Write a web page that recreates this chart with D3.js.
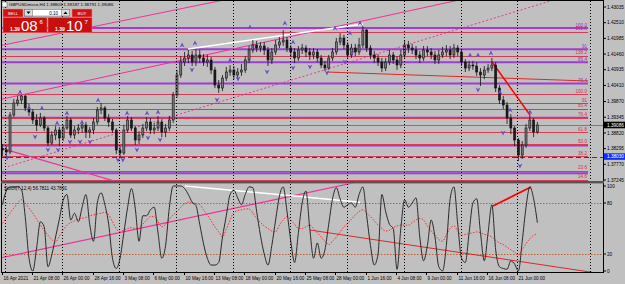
<!DOCTYPE html>
<html><head><meta charset="utf-8">
<script src="https://cdn.jsdelivr.net/npm/d3@7"></script>
<style>body{margin:0;background:#c0c0c0;overflow:hidden}svg{display:block;font-family:"Liberation Sans",Arial,sans-serif}</style>
</head><body><svg id="c" width="625" height="284"></svg>
<script>
// ---------- DATA ----------
const symbolTitle = "GBPUSDmicro,H4  1.38803 1.39187 1.38791 1.39086";
const stochTitle = "Stoch(7,12,4) 56.7811 43.7891";
// 8-hour aggregated candles; open = previous close
const closes = [1.38249,1.38182,1.39420,1.39822,1.39922,1.40056,1.39655,1.39521,1.39253,1.39086,
1.39320,1.38985,1.38483,1.38751,1.38918,1.38650,1.38985,1.39253,1.38751,1.38918,
1.38985,1.39086,1.38851,1.38918,1.39186,1.39588,1.39655,1.39320,1.39186,1.38918,
1.38249,1.38148,1.38918,1.39253,1.38985,1.38583,1.38751,1.38985,1.39186,1.38918,
1.38985,1.39186,1.38851,1.38985,1.39253,1.40090,1.40759,1.41194,1.41328,1.41428,
1.41194,1.41428,1.41328,1.41194,1.41261,1.40926,1.40424,1.40324,1.40659,1.40859,
1.40926,1.40759,1.40859,1.40926,1.41261,1.41596,1.41763,1.41663,1.41730,1.41596,
1.41261,1.41529,1.41763,1.41864,1.41930,1.41663,1.41529,1.41328,1.41596,1.41663,
1.41529,1.41428,1.41529,1.41328,1.41094,1.40993,1.41328,1.41529,1.41864,1.41997,
1.41763,1.41428,1.41663,1.41529,1.41763,1.42265,1.41663,1.41428,1.41328,1.41194,
1.40993,1.41194,1.41428,1.41261,1.41094,1.41428,1.41763,1.41663,1.41596,1.41428,
1.41328,1.41596,1.41529,1.41428,1.41261,1.41428,1.41529,1.41596,1.41428,1.41663,
1.41529,1.41194,1.40993,1.41094,1.41060,1.40859,1.40759,1.40926,1.40993,1.41094,
1.40324,1.39922,1.39755,1.39320,1.38985,1.38583,1.38081,1.38416,1.38985,1.39253,
1.38851,1.39086];
const highs = [1.3845,1.3838,1.3952,1.3996,1.4006,1.4009,1.4009,1.3979,1.3962,1.3945,
1.3949,1.3939,1.3905,1.3888,1.3905,1.3902,1.3909,1.3939,1.3932,1.3905,
1.3912,1.3919,1.3919,1.3902,1.3932,1.3969,1.3982,1.3972,1.3945,1.3929,
1.3898,1.3838,1.3909,1.3939,1.3935,1.3905,1.3888,1.3912,1.3935,1.3932,
1.3915,1.3939,1.3925,1.3912,1.3939,1.4019,1.4093,1.4139,1.4153,1.4160,
1.4156,1.4163,1.4160,1.4146,1.4143,1.4136,1.4103,1.4059,1.4076,1.4103,
1.4109,1.4106,1.4099,1.4113,1.4139,1.4173,1.4193,1.4190,1.4186,1.4186,
1.4170,1.4166,1.4193,1.4203,1.4226,1.4203,1.4176,1.4166,1.4173,1.4180,
1.4176,1.4166,1.4166,1.4163,1.4143,1.4123,1.4143,1.4166,1.4200,1.4216,
1.4210,1.4186,1.4180,1.4180,1.4200,1.4240,1.4230,1.4176,1.4156,1.4146,
1.4133,1.4133,1.4160,1.4153,1.4139,1.4160,1.4193,1.4190,1.4180,1.4173,
1.4156,1.4173,1.4173,1.4166,1.4156,1.4160,1.4170,1.4176,1.4173,1.4180,
1.4176,1.4163,1.4129,1.4123,1.4123,1.4119,1.4099,1.4106,1.4113,1.4133,
1.4119,1.4042,1.4006,1.3986,1.3945,1.3905,1.3865,1.3855,1.3912,1.3942,
1.3932,1.3919];
const lows = [1.3805,1.3798,1.3811,1.3935,1.3972,1.3979,1.3955,1.3939,1.3912,1.3888,
1.3902,1.3888,1.3838,1.3842,1.3858,1.3838,1.3855,1.3892,1.3865,1.3862,
1.3878,1.3882,1.3865,1.3865,1.3878,1.3909,1.3945,1.3922,1.3902,1.3882,
1.3811,1.3798,1.3808,1.3882,1.3888,1.3842,1.3845,1.3865,1.3888,1.3878,
1.3878,1.3888,1.3868,1.3868,1.3888,1.3915,1.3999,1.4066,1.4106,1.4116,
1.4106,1.4106,1.4116,1.4106,1.4103,1.4079,1.4032,1.4016,1.4022,1.4056,
1.4073,1.4062,1.4062,1.4073,1.4083,1.4116,1.4150,1.4153,1.4153,1.4143,
1.4106,1.4113,1.4143,1.4166,1.4173,1.4153,1.4136,1.4116,1.4123,1.4146,
1.4136,1.4126,1.4129,1.4119,1.4099,1.4089,1.4093,1.4123,1.4143,1.4176,
1.4163,1.4129,1.4133,1.4139,1.4143,1.4166,1.4153,1.4129,1.4116,1.4106,
1.4086,1.4089,1.4109,1.4113,1.4093,1.4099,1.4133,1.4150,1.4146,1.4129,
1.4116,1.4123,1.4139,1.4129,1.4113,1.4113,1.4133,1.4139,1.4129,1.4133,
1.4139,1.4106,1.4086,1.4089,1.4093,1.4073,1.4039,1.4062,1.4083,1.4089,
1.4019,1.3979,1.3962,1.3912,1.3878,1.3838,1.3788,1.3795,1.3832,1.3888,
1.3868,1.3879];
const firstOpen = 1.38300;
const stochMain = [78,94,99,99,99,96,64,15,0,27,58,52,5,19,40,61,83,90,60,68,
58,75,90,55,35,80,92,78,55,15,3,15,45,75,97,74,35,65,65,72,
75,45,15,30,75,100,100,100,97,90,81,77,55,32,15,7,7,10,40,65,
90,95,86,78,90,99,98,70,42,20,7,30,60,88,99,70,35,10,45,80,
94,50,15,33,15,25,55,85,98,85,75,78,80,75,90,99,65,30,7,20,
90,70,55,50,2,50,84,75,80,86,40,12,30,60,40,5,0,30,85,99,
55,15,10,45,80,85,45,12,45,78,25,5,3,2,12,8,0,35,75,99,85,56.78];
const stochSignal = [56,62,68,74,80,84,80,74,68,61,54,48,42,37,34,41,48,54,57,59,
61,62,63,65,66,67,68,69,66,58,50,46,48,50,51,50,50,55,60,64,
64,58,52,55,61,66,70,75,79,81,80,79,78,72,66,59,52,46,40,49,
60,69,71,72,73,73,68,62,57,53,50,47,46,54,60,64,60,55,50,50,
52,54,50,45,40,35,31,35,40,46,52,56,61,66,70,72,68,64,59,54,
50,47,48,51,53,54,54,54,57,60,62,60,53,47,42,37,35,43,50,53,
47,42,43,44,45,46,45,43,42,40,36,33,31,28,25,22,19,25,32,38,42,43.79];
const timeLabels = ["16 Apr 2021","21 Apr 08:00","26 Apr 00:00","28 Apr 16:00","3 May 08:00","6 May 00:00",
"10 May 16:00","13 May 08:00","18 May 00:00","20 May 16:00","25 May 08:00","28 May 00:00",
"1 Jun 16:00","4 Jun 08:00","9 Jun 00:00","11 Jun 16:00","16 Jun 08:00","21 Jun 00:00"];
const timeLabelBars = [0,16,32,48,64,80,96,112,128,144,160,176,192,208,224,240,256,272];
const weekStartBars = [2,32,62,92,122,152,182,212,242,272];
const extraVLineBars = [310];
const priceTicks = [1.43035,1.42510,1.41985,1.41460,1.40935,1.40410,1.39870,1.39345,1.38820,1.38295,1.37770,1.37245];
const stochTicks = [100,80,20,0];
const stochLevels = [80,20];
const bidPrice = 1.39086;
const hLinePrice = 1.38030;
// Fibonacci objects
const fiboPurple = {high:1.42332, low:1.34467, levels:[100,91,85.4,76.4,61.8,50,38.2], labelled:[100,91,85.4,76.4]};
const fiboRed = {high:1.40123, low:1.36753, levels:[161.8,138.2,100,91,85.4,76.4,61.8,50,38.2,23.6,14.6]};
// Fractal arrows (bar index, price)
const upBars = [9.8,14.5,21.3,29.3,34.5,42.4,50.9,66.2,76.7,82.5,95.2,102,120.5,131,149.4,153.7,175.8,183.7,189,247,251.2,258,262.8,268.1,278.6];
const upPrices = [1.40190,1.39655,1.39655,1.39153,1.39487,1.39186,1.39922,1.39487,1.39487,1.39521,1.41763,1.41830,1.41261,1.42366,1.42500,1.41864,1.42332,1.42165,1.42500,1.41428,1.41428,1.41495,1.40190,1.39588,1.39521];
const dnBars = [2.9,17.7,24.5,29.8,36.1,41.4,46.7,61.4,64,71.4,77.2,83.6,100.4,113.6,124.7,140,153.7,162.6,171.6,181.1,184.8,251.2,264.4,273.3];
const dnPrices = [1.37981,1.38684,1.38249,1.38249,1.38517,1.38517,1.38517,1.37914,1.37914,1.38249,1.38651,1.38584,1.40926,1.39922,1.40625,1.40859,1.40993,1.41027,1.40826,1.41194,1.41495,1.40257,1.38818,1.37713];
// Trendlines in main window: [bar1, price1, bar2, price2]
const mainLines = [
  {p:[0,1.39949,194.3,1.42623], color:"#f0309a", w:1, dash:null, ray:true},
  {p:[0,1.41750,83.6,1.42834], color:"#f0309a", w:1, dash:null, ray:true},
  {p:[3.4,1.37694,247,1.42416], color:"#f0309a", w:1, dash:"2,2", ray:true},
  {p:[0,1.38302,61.4,1.37178], color:"#f0309a", w:1.2, dash:null, ray:false},
  {p:[171.6,1.40859,309.2,1.40558], color:"#e02828", w:1, dash:null, ray:false},
  {p:[98.3,1.41629,190.6,1.42466], color:"#ffffff", w:1.5, dash:null, ray:false},
  {p:[258.6,1.41194,278.6,1.39420], color:"#ff0000", w:1.5, dash:null, ray:false}
];
// Trendlines in stochastic window: [bar1, value1, bar2, value2]
const indLines = [
  {p:[0,15.6,185.3,103.5], color:"#f0309a", w:1.2},
  {p:[96.7,100,189,81], color:"#ffffff", w:1.5},
  {p:[162.6,48.2,313.9,-2.4], color:"#e02828", w:1},
  {p:[259.1,76.5,279.1,98.8], color:"#ff0000", w:1.8}
];

// ---------- DRAW ----------
const svg = d3.select("#c");
const W=625, H=284, R=603, mTop=1, mBot=181.5, iTop=183.5, iBot=272;
const x = d3.scaleLinear().domain([0,283]).range([1.5, 1.5+283*1.897]);
const y = d3.scaleLinear().domain([1.43035,1.37245]).range([7,180]);
const ys = d3.scaleLinear().domain([0,100]).range([271,186]);

svg.append("rect").attr("width",W).attr("height",H).attr("fill","#c0c0c0");
const defs = svg.append("defs");
defs.append("clipPath").attr("id","cm").append("rect").attr("x",1.5).attr("y",mTop).attr("width",R-1.5).attr("height",mBot-mTop);
defs.append("clipPath").attr("id","ci").append("rect").attr("x",1.5).attr("y",iTop).attr("width",R-1.5).attr("height",iBot-iTop);
const gm = svg.append("g").attr("clip-path","url(#cm)");
const gi = svg.append("g").attr("clip-path","url(#ci)");

// period separators
const gs = svg.append("g");
weekStartBars.concat(extraVLineBars).forEach(b=>{
  gs.append("line").attr("x1",Math.round(x(b))+0.5).attr("x2",Math.round(x(b))+0.5).attr("y1",mTop).attr("y2",iBot)
    .attr("stroke","#000").attr("stroke-width",1).attr("stroke-dasharray","1,2");
});

// fibo lines
function fibPrice(f,l){return f.low + (f.high-f.low)*l/100;}
function fibText(l){return l===91?"91":l.toFixed(1);}
fiboPurple.levels.forEach(l=>{
  const yy=y(fibPrice(fiboPurple,l));
  gm.append("line").attr("x1",0).attr("x2",588).attr("y1",yy).attr("y2",yy).attr("stroke","#a03cd2").attr("stroke-width",2);
});
fiboRed.levels.forEach(l=>{
  const yy=Math.round(y(fibPrice(fiboRed,l)))+0.5;
  gm.append("line").attr("x1",0).attr("x2",588).attr("y1",yy).attr("y2",yy).attr("stroke","#d83a58").attr("stroke-width",1);
});
gm.append("line").attr("x1",0).attr("x2",R).attr("y1",Math.round(y(hLinePrice))+0.5).attr("y2",Math.round(y(hLinePrice))+0.5)
  .attr("stroke","#1030ff").attr("stroke-width",1.2).attr("stroke-dasharray","5,3");
gm.append("line").attr("x1",0).attr("x2",R).attr("y1",Math.round(y(bidPrice))+0.5).attr("y2",Math.round(y(bidPrice))+0.5)
  .attr("stroke","#7a7a7a").attr("stroke-width",1);
fiboPurple.labelled.forEach(l=>{
  gm.append("text").attr("x",587).attr("y",y(fibPrice(fiboPurple,l))-1.5).attr("text-anchor","end")
    .attr("font-size",4.6).attr("fill","#9a30d0").text(fibText(l));
});
fiboRed.levels.forEach(l=>{
  gm.append("text").attr("x",587).attr("y",y(fibPrice(fiboRed,l))-1.5).attr("text-anchor","end")
    .attr("font-size",4.6).attr("fill","#d8304e").text(fibText(l));
});

// main trendlines
function lineEnds(p, ray, yscale){
  const [b1,v1,b2,v2]=p;
  let xe=b2, ve=v2;
  if(ray){ xe = 330; ve = v1 + (v2-v1)*(xe-b1)/(b2-b1); }
  return [x(b1), yscale(v1), x(xe), yscale(ve)];
}
mainLines.forEach(L=>{
  const e=lineEnds(L.p,L.ray,y);
  const ln=gm.append("line").attr("x1",e[0]).attr("y1",e[1]).attr("x2",e[2]).attr("y2",e[3])
    .attr("stroke",L.color).attr("stroke-width",L.w);
  if(L.dash) ln.attr("stroke-dasharray",L.dash);
});

// candles
const cw = 2.0;
closes.forEach((c,j)=>{
  const o = j===0?firstOpen:closes[j-1];
  const cx = x(2*j+0.5);
  gm.append("line").attr("x1",cx).attr("x2",cx).attr("y1",y(highs[j])).attr("y2",y(lows[j])).attr("stroke","#111").attr("stroke-width",0.8);
  const top=y(Math.max(o,c)), bot=y(Math.min(o,c));
  gm.append("rect").attr("x",cx-cw/2).attr("y",top).attr("width",cw).attr("height",Math.max(0.8,bot-top))
    .attr("fill", c>=o?"#7a7a7a":"#1a1a1a").attr("stroke","#111").attr("stroke-width",0.6);
});

// fractal arrows
const arrowCol="#6a4cc8";
upBars.forEach((b,k)=>{
  gm.append("path").attr("transform",`translate(${x(b)},${y(upPrices[k])})`)
    .attr("d","M0,-2.6 L2.4,2.4 L0,1 L-2.4,2.4 Z").attr("fill",arrowCol);
});
dnBars.forEach((b,k)=>{
  gm.append("path").attr("transform",`translate(${x(b)},${y(dnPrices[k])})`)
    .attr("d","M0,2.6 L2.4,-2.4 L0,-1 L-2.4,-2.4 Z").attr("fill",arrowCol);
});

// ---------- stochastic ----------
stochLevels.forEach(v=>{
  gi.append("line").attr("x1",0).attr("x2",R).attr("y1",Math.round(ys(v))+0.5).attr("y2",Math.round(ys(v))+0.5)
    .attr("stroke","#c0603a").attr("stroke-width",1).attr("stroke-dasharray","1.5,1.5");
});
indLines.forEach(L=>{
  const [b1,v1,b2,v2]=L.p;
  gi.append("line").attr("x1",x(b1)).attr("y1",ys(v1)).attr("x2",x(b2)).attr("y2",ys(v2))
    .attr("stroke",L.color).attr("stroke-width",L.w);
});
const lineS = d3.line().x((d,j)=>x(2*j+0.5)).y(d=>ys(d)).curve(d3.curveMonotoneX);
gi.append("path").attr("d",lineS(stochSignal)).attr("fill","none").attr("stroke","#ff2a2a").attr("stroke-width",1).attr("stroke-dasharray","1.5,1.5");
gi.append("path").attr("d",lineS(stochMain)).attr("fill","none").attr("stroke","#2a2a2a").attr("stroke-width",1);
svg.append("text").attr("x",4).attr("y",190).attr("font-size",4.6).attr("fill","#000").text(stochTitle);

// ---------- frames & axes ----------
svg.append("line").attr("x1",1.5).attr("x2",1.5).attr("y1",0).attr("y2",iBot).attr("stroke","#000");
svg.append("line").attr("x1",R+0.5).attr("x2",R+0.5).attr("y1",0).attr("y2",iBot).attr("stroke","#000");
svg.append("line").attr("x1",1).attr("x2",R+1).attr("y1",0.5).attr("y2",0.5).attr("stroke","#000");
svg.append("rect").attr("x",1).attr("y",181).attr("width",R).attr("height",2.4).attr("fill","#555");
svg.append("line").attr("x1",1).attr("x2",R+1).attr("y1",iBot+0.5).attr("y2",iBot+0.5).attr("stroke","#000");

const ga = svg.append("g");
priceTicks.forEach(p=>{
  const yy=y(p);
  ga.append("line").attr("x1",R).attr("x2",R+3).attr("y1",yy).attr("y2",yy).attr("stroke","#000");
  ga.append("text").attr("x",R+4).attr("y",yy+1.6).attr("font-size",4.7).attr("fill","#000").text(p.toFixed(5));
});
function tag(p,bg){
  const yy=y(p);
  ga.append("rect").attr("x",R+1).attr("y",yy-3.3).attr("width",21).attr("height",6.6).attr("fill",bg);
  ga.append("text").attr("x",R+4).attr("y",yy+1.6).attr("font-size",4.7).attr("fill","#fff").text(p.toFixed(5));
}
tag(bidPrice,"#000"); tag(hLinePrice,"#1030ff");
stochTicks.forEach(v=>{
  const yy=ys(v);
  ga.append("line").attr("x1",R).attr("x2",R+3).attr("y1",yy).attr("y2",yy).attr("stroke","#000");
  ga.append("text").attr("x",R+4).attr("y",yy+1.6).attr("font-size",4.7).attr("fill","#000").text(v);
});
timeLabelBars.forEach((b,k)=>{
  const xx=Math.round(x(b))+0.5;
  ga.append("line").attr("x1",xx).attr("x2",xx).attr("y1",iBot).attr("y2",iBot+3).attr("stroke","#000");
  ga.append("text").attr("x",xx+1).attr("y",280).attr("font-size",4.6).attr("fill","#000").text(timeLabels[k]);
});

// ---------- header & trade panel ----------
svg.append("rect").attr("x",2).attr("y",2).attr("width",5).attr("height",5).attr("fill","#fff").attr("stroke","#444").attr("stroke-width",0.5);
svg.append("text").attr("x",9).attr("y",6.3).attr("font-size",4.4).attr("fill","#000").text(symbolTitle);
const tp = svg.append("g");
function btn(x0,y0,w,h,label){
  tp.append("rect").attr("x",x0).attr("y",y0).attr("width",w).attr("height",h).attr("fill","#cc1414").attr("stroke","#ff8080").attr("stroke-width",0.5);
  tp.append("text").attr("x",x0+w/2).attr("y",y0+h/2+1.5).attr("text-anchor","middle").attr("font-size",4.3).attr("fill","#fff").text(label);
}
btn(3,9,20,8,"SELL"); btn(72,9,20,8,"BUY");
tp.append("rect").attr("x",24.5).attr("y",9.5).attr("width",45).attr("height",6.5).attr("fill","#fff").attr("stroke","#666").attr("stroke-width",0.5);
tp.append("rect").attr("x",24.5).attr("y",9.5).attr("width",8).attr("height",6.5).attr("fill","#ddd").attr("stroke","#666").attr("stroke-width",0.5);
tp.append("rect").attr("x",61.5).attr("y",9.5).attr("width",8).attr("height",6.5).attr("fill","#ddd").attr("stroke","#666").attr("stroke-width",0.5);
tp.append("path").attr("d","M26.5,11.5 L30.5,11.5 L28.5,14 Z").attr("fill","#000");
tp.append("path").attr("d","M63.5,14 L67.5,14 L65.5,11.5 Z").attr("fill","#000");
tp.append("text").attr("x",58).attr("y",14.5).attr("text-anchor","end").attr("font-size",4.5).attr("fill","#000").text("0.10");
function pbox(x0,small,big,sup){
  tp.append("rect").attr("x",x0).attr("y",17.5).attr("width",44).attr("height",15).attr("fill","#c80e0e").attr("stroke","#ff7070").attr("stroke-width",0.5);
  tp.append("text").attr("x",x0+7).attr("y",30.5).attr("font-size",5).attr("font-weight","bold").attr("fill","#fff").text(small);
  tp.append("text").attr("x",x0+18).attr("y",31).attr("font-size",15).attr("fill","#fff").text(big);
  tp.append("text").attr("x",x0+36.5).attr("y",23.5).attr("font-size",6).attr("fill","#fff").text(sup);
}
pbox(3,"1.39","08","6"); pbox(48,"1.39","10","7");
</script></body></html>
